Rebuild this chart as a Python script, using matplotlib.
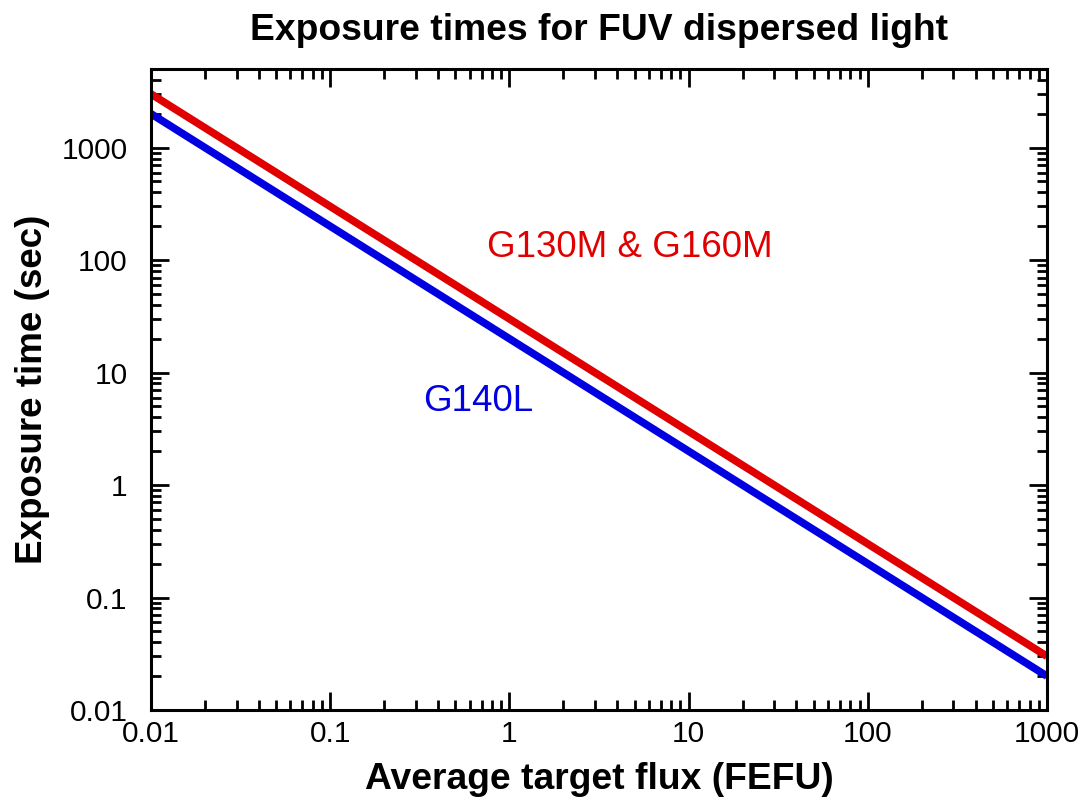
import matplotlib
matplotlib.use("Agg")
import matplotlib.pyplot as plt
from matplotlib.ticker import LogLocator, FixedLocator, FixedFormatter, NullFormatter

plt.rcParams['font.family'] = ['Liberation Sans', 'DejaVu Sans']

# Average target flux (FEFU) and exposure times (sec)
flux = [0.01, 1000]
time_g130m_g160m = [3000, 0.03]
time_g140l = [2000, 0.02]

xticks = [0.01, 0.1, 1, 10, 100, 1000]
xticklabels = ['0.01', '0.1', '1', '10', '100', '1000']
yticks = [0.01, 0.1, 1, 10, 100, 1000]
yticklabels = ['0.01', '0.1', '1', '10', '100', '1000']

fig = plt.figure(figsize=(10.86, 8.08), dpi=100)
ax = fig.add_axes([151 / 1086, 1 - 710 / 808, (1047 - 151) / 1086, (710 - 69) / 808])

ax.plot(flux, time_g130m_g160m, color='#e00000', lw=5.5, solid_capstyle='butt')
ax.plot(flux, time_g140l, color='#0000e0', lw=5.5, solid_capstyle='butt')

ax.set_xscale('log')
ax.set_yscale('log')
ax.set_xlim(0.01, 1000)
ax.set_ylim(0.01, 5000)

ax.xaxis.set_major_locator(FixedLocator(xticks))
ax.xaxis.set_major_formatter(FixedFormatter(xticklabels))
ax.yaxis.set_major_locator(FixedLocator(yticks))
ax.yaxis.set_major_formatter(FixedFormatter(yticklabels))
ax.xaxis.set_minor_locator(LogLocator(base=10, subs=range(2, 10)))
ax.yaxis.set_minor_locator(LogLocator(base=10, subs=range(2, 10)))
ax.xaxis.set_minor_formatter(NullFormatter())
ax.yaxis.set_minor_formatter(NullFormatter())

ax.tick_params(which='both', direction='in', top=True, right=True, colors='black')
ax.tick_params(which='major', length=13, width=2, labelsize=21.5)
ax.tick_params(axis='x', which='major', pad=7)
ax.tick_params(axis='y', which='major', pad=17)
ax.tick_params(which='minor', length=7, width=2)
for s in ax.spines.values():
    s.set_linewidth(2.2)

ax.set_xlabel('Average target flux (FEFU)', fontsize=26.8, fontweight='bold', labelpad=10)
ax.set_ylabel('Exposure time (sec)', fontsize=26.5, fontweight='bold', labelpad=8)
ax.set_title('Exposure times for FUV dispersed light', fontsize=26.8, fontweight='bold', pad=21)

ax.text(0.75, 130, 'G130M & G160M', color='#e00000', fontsize=26.5, va='center', ha='left')
ax.text(0.33, 5.5, 'G140L', color='#0000e0', fontsize=26.5, va='center', ha='left')

fig.savefig('out.png', dpi=100)
